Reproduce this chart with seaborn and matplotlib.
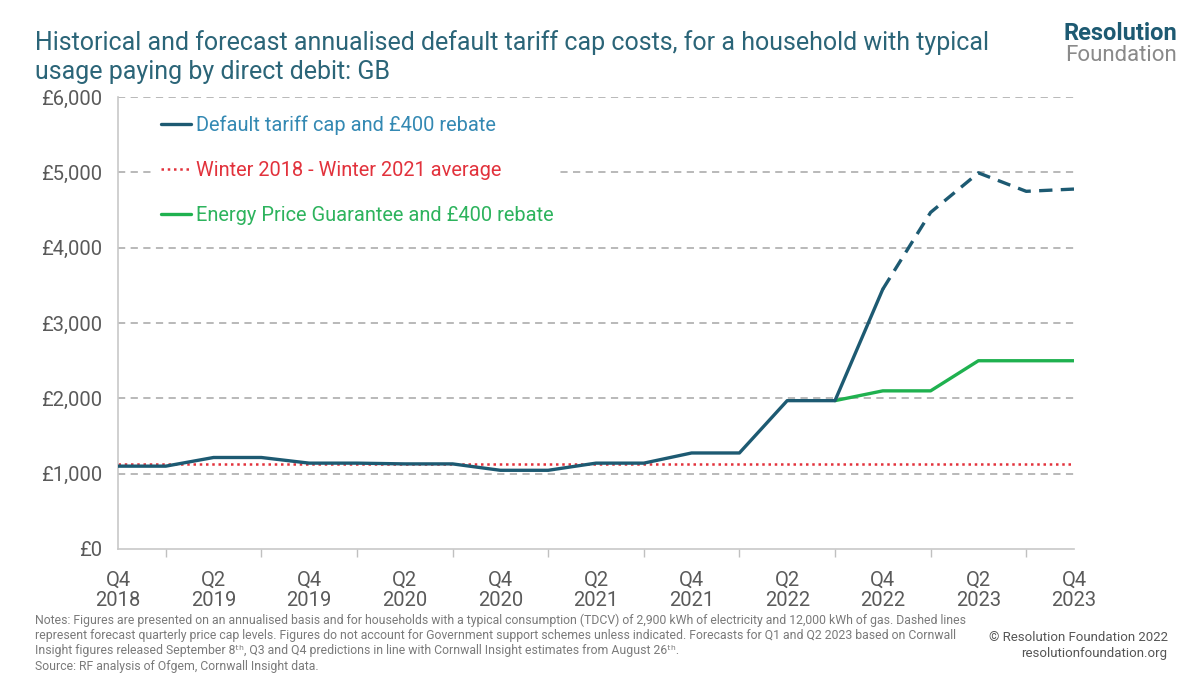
import seaborn as sns
import pandas as pd
import numpy as np
import matplotlib.pyplot as plt

# quarters Q4 2018 .. Q4 2023
quarters = ['Q4 2018', 'Q1 2019', 'Q2 2019', 'Q3 2019', 'Q4 2019', 'Q1 2020', 'Q2 2020',
            'Q3 2020', 'Q4 2020', 'Q1 2021', 'Q2 2021', 'Q3 2021', 'Q4 2021', 'Q1 2022',
            'Q2 2022', 'Q3 2022', 'Q4 2022', 'Q1 2023', 'Q2 2023', 'Q3 2023', 'Q4 2023']
tick_labels = ['Q4\n2018', 'Q2\n2019', 'Q4\n2019', 'Q2\n2020', 'Q4\n2020', 'Q2\n2021',
               'Q4\n2021', 'Q2\n2022', 'Q4\n2022', 'Q2\n2023', 'Q4\n2023']

# default tariff cap and £400 rebate (outturn then forecast)
cap_actual = [1100, 1100, 1215, 1215, 1140, 1140, 1130, 1130, 1045, 1045, 1140,
              1140, 1275, 1275, 1970, 1970, 3450]
cap_forecast = [3450, 4470, 4995, 4750, 4780]
# energy price guarantee and £400 rebate, Q3 2022 onwards
epg = [1970, 2100, 2100, 2500, 2500, 2500]
winter_avg = 1135

pos = np.arange(len(quarters))
df_actual = pd.DataFrame({'x': pos[:len(cap_actual)], 'y': cap_actual})
df_fc = pd.DataFrame({'x': pos[16:16 + len(cap_forecast)], 'y': cap_forecast})
df_epg = pd.DataFrame({'x': pos[15:15 + len(epg)], 'y': epg})
df_avg = pd.DataFrame({'x': pos, 'y': [winter_avg] * len(pos)})

teal = '#1d5a72'
green = '#1fb14f'
red = '#e2323c'
grey = '#5a5a5a'

sns.set_theme(style='white')
plt.rcParams['font.family'] = ['Roboto', 'DejaVu Sans']

fig = plt.figure(figsize=(12, 6.75), dpi=100)
ax = fig.add_axes([0.0983, 0.1867, 0.7967, 0.6693])

for v in range(1000, 7000, 1000):
    ax.axhline(v, color='#b3b3b3', lw=1.3, ls=(0, (4, 3)), zorder=0)

sns.lineplot(data=df_avg, x='x', y='y', ax=ax, color=red, lw=1.8, ls=(0, (1, 1.5)),
             label='Winter 2018 - Winter 2021 average', zorder=2)
sns.lineplot(data=df_epg, x='x', y='y', ax=ax, color=green, lw=2.4,
             label='Energy Price Guarantee and £400 rebate', zorder=3)
sns.lineplot(data=df_actual, x='x', y='y', ax=ax, color=teal, lw=2.4,
             label='Default tariff cap and £400 rebate', zorder=4)
sns.lineplot(data=df_fc, x='x', y='y', ax=ax, color=teal, lw=2.4, ls=(0, (4, 2.5)),
             legend=False, zorder=4)

ax.set_xlim(0, len(quarters) - 1)
ax.set_ylim(0, 6000)
ax.set_yticks(range(0, 7000, 1000))
ax.set_yticklabels(['£0', '£1,000', '£2,000', '£3,000', '£4,000', '£5,000', '£6,000'])
ax.set_xticks(pos, minor=True)
ax.set_xticks(pos[::2])
ax.set_xticklabels(tick_labels, linespacing=1.05)
ax.set_xlabel('')
ax.set_ylabel('')
ax.tick_params(axis='both', which='both', colors='#c0c0c0', labelcolor=grey)
ax.tick_params(axis='y', length=5, width=1, labelsize=14.5, pad=6)
ax.tick_params(axis='x', which='both', length=6, width=1, direction='out')
ax.tick_params(axis='x', labelsize=14.5, pad=10)
ax.xaxis.set_tick_params(which='minor', bottom=True)
for s in ['top', 'right']:
    ax.spines[s].set_visible(False)
for s in ['left', 'bottom']:
    ax.spines[s].set_color('#c8c8c8')
    ax.spines[s].set_linewidth(1.2)

handles, labels = ax.get_legend_handles_labels()
order = [labels.index('Default tariff cap and £400 rebate'),
         labels.index('Winter 2018 - Winter 2021 average'),
         labels.index('Energy Price Guarantee and £400 rebate')]
leg = ax.legend([handles[i] for i in order], [labels[i] for i in order],
                loc='upper left', bbox_to_anchor=(0.028, 0.995), frameon=True,
                facecolor='white', edgecolor='white', framealpha=1,
                fontsize=14.4, handlelength=1.5, handletextpad=0.25, labelspacing=1.3,
                borderpad=0.3)
for t, c in zip(leg.get_texts(), ['#3489b3', red, '#2db35d']):
    t.set_color(c)

fig.text(0.029, 0.916, 'Historical and forecast annualised default tariff cap costs, for a household with typical\n'
         'usage paying by direct debit: GB', color='#2b6578', fontsize=18, va='center',
         linespacing=1.25)
fig.text(0.981, 0.951, 'Resolution', color='#1d5a72', fontsize=17, fontweight='bold',
         ha='right', va='center')
fig.text(0.981, 0.918, 'Foundation', color='#8a8a8a', fontsize=16, ha='right', va='center')

notes = ('Notes: Figures are presented on an annualised basis and for households with a typical consumption (TDCV) of 2,900 kWh of electricity and 12,000 kWh of gas. Dashed lines\n'
         'represent forecast quarterly price cap levels. Figures do not account for Government support schemes unless indicated. Forecasts for Q1 and Q2 2023 based on Cornwall\n'
         'Insight figures released September 8ᵗʰ, Q3 and Q4 predictions in line with Cornwall Insight estimates from August 26ᵗʰ.\n'
         'Source: RF analysis of Ofgem, Cornwall Insight data.')
fig.text(0.029, 0.091, notes, color='#7a7a7a', fontsize=8.85, va='top', linespacing=1.22)
fig.text(0.973, 0.044, '© Resolution Foundation 2022\nresolutionfoundation.org', color='#555555',
         fontsize=9.5, ha='right', va='center', linespacing=1.3)

fig.savefig('out.png', dpi=100)
